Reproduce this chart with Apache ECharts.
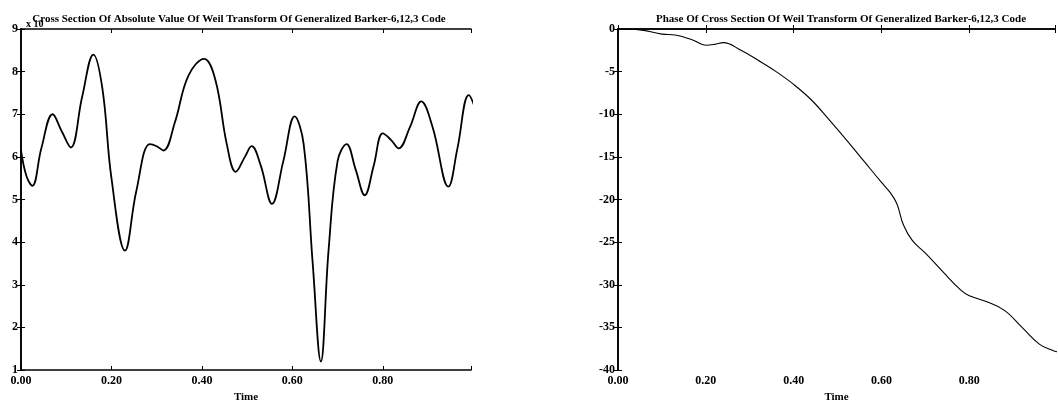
<!DOCTYPE html>
<html>
<head>
<meta charset="utf-8">
<script src="https://cdn.jsdelivr.net/npm/echarts@6/dist/echarts.min.js"></script>
<style>
  html, body { margin: 0; padding: 0; background: #fff; }
  #chart { width: 1058px; height: 408px; }
</style>
</head>
<body>
<div id="chart"></div>
<script>
// Magnitude of the cross section (scaled values) against time
const magTime = [0.000, 0.012, 0.025, 0.045, 0.070, 0.090, 0.110, 0.135, 0.160, 0.180,
  0.200, 0.230, 0.255, 0.285, 0.300, 0.315, 0.340, 0.370, 0.405, 0.430,
  0.455, 0.475, 0.495, 0.510, 0.530, 0.555, 0.580, 0.605, 0.625, 0.645,
  0.663, 0.680, 0.700, 0.720, 0.740, 0.760, 0.780, 0.800, 0.818, 0.835,
  0.860, 0.885, 0.910, 0.945, 0.965, 0.990, 1.005, 1.015];
const magValue = [6.15, 5.55, 5.32, 6.2, 7.0, 6.6, 6.22, 7.4, 8.4, 7.6,
  5.5, 3.8, 5.2, 6.3, 6.25, 6.15, 6.8, 7.9, 8.3, 7.8,
  6.3, 5.65, 6.0, 6.25, 5.8, 4.9, 5.9, 6.95, 6.3, 3.5,
  1.2, 3.8, 5.9, 6.3, 5.7, 5.1, 5.8, 6.55, 6.4, 6.2,
  6.7, 7.3, 6.7, 5.3, 6.2, 7.45, 7.1, 6.6];

// Phase of the cross section against time
const phaseTime = [0.00, 0.05, 0.10, 0.13, 0.17, 0.20, 0.22, 0.24, 0.28, 0.32,
  0.36, 0.40, 0.44, 0.48, 0.52, 0.56, 0.60, 0.62, 0.635, 0.65,
  0.67, 0.70, 0.74, 0.78, 0.80, 0.84, 0.88, 0.92, 0.96, 0.99, 1.01];
const phaseValue = [0.0, -0.1, -0.6, -0.7, -1.3, -1.9, -1.8, -1.6, -2.5, -3.7,
  -5.0, -6.5, -8.3, -10.6, -13.0, -15.5, -18.0, -19.2, -20.5, -23.0,
  -24.8, -26.3, -28.5, -30.6, -31.3, -32.0, -33.0, -35.0, -37.0, -37.7, -38.0];

const timeTicks = ['0.00', '0.20', '0.40', '0.60', '0.80'];
const magTicks = ['1', '2', '3', '4', '5', '6', '7', '8', '9'];
const phaseTicks = ['-40', '-35', '-30', '-25', '-20', '-15', '-10', '-5', '0'];

const leftTitle = 'Cross Section Of Absolute Value Of Weil Transform Of Generalized Barker-6,12,3 Code';
const rightTitle = 'Phase Of Cross Section Of Weil Transform Of Generalized Barker-6,12,3 Code';
const xName = 'Time';
const scaleNote = 'x 10';

const FONT = 'Liberation Serif';
const txt = { fontFamily: FONT, fontWeight: 'bold', color: '#000', fontSize: 12 };

function labelFrom(list) {
  return function (v) {
    for (const s of list) if (Math.abs(parseFloat(s) - v) < 1e-6) return s;
    return '';
  };
}

const line = { show: true, lineStyle: { color: '#000', width: 1.6 } };
const tickIn = { show: true, inside: true, length: 4, lineStyle: { color: '#000', width: 1 } };

function xAxes(grid) {
  return [
    { gridIndex: grid, type: 'value', min: 0, max: 0.995, interval: 0.2, position: 'bottom',
      name: xName, nameLocation: 'middle', nameGap: 22,
      nameTextStyle: Object.assign({}, txt, { fontSize: 11 }),
      axisLine: line, axisTick: tickIn, splitLine: { show: false },
      axisLabel: Object.assign({ margin: 5, formatter: labelFrom(timeTicks) }, txt) },
    { gridIndex: grid, type: 'value', min: 0, max: 0.995, interval: 0.2, position: 'top',
      axisLine: line, axisTick: tickIn, splitLine: { show: false }, axisLabel: { show: false } }
  ];
}
function yAxes(grid, min, max, interval, list) {
  return [
    { gridIndex: grid, type: 'value', min: min, max: max, interval: interval, position: 'left',
      axisLine: line, axisTick: tickIn, splitLine: { show: false },
      axisLabel: Object.assign({ margin: 3, formatter: labelFrom(list) }, txt) },
    { gridIndex: grid, type: 'value', min: min, max: max, interval: interval, position: 'right',
      axisLine: line, axisTick: tickIn, splitLine: { show: false }, axisLabel: { show: false } }
  ];
}

const chart = echarts.init(document.getElementById('chart'), null, { renderer: 'canvas' });
chart.setOption({
  backgroundColor: '#fff',
  animation: false,
  title: [
    { text: leftTitle, left: 234, top: 9, textAlign: 'center',
      textStyle: Object.assign({}, txt, { fontSize: 11 }) },
    { text: rightTitle, left: 836, top: 9, textAlign: 'center',
      textStyle: Object.assign({}, txt, { fontSize: 11 }) },
    { text: scaleNote, left: 21, top: 14, textStyle: Object.assign({}, txt, { fontSize: 10 }) }
  ],
  grid: [
    { left: 21, top: 29, width: 450, height: 348 },
    { left: 618, top: 29, width: 450, height: 348 }
  ],
  xAxis: xAxes(0).concat(xAxes(1)),
  yAxis: yAxes(0, 1, 9, 1, magTicks).concat(yAxes(1, -40, 0, 5, phaseTicks)),
  series: [
    { type: 'line', xAxisIndex: 0, yAxisIndex: 0, smooth: 0.4, symbol: 'none',
      lineStyle: { color: '#000', width: 1.8 },
      data: magTime.map((t, i) => [t, magValue[i]]) },
    { type: 'line', xAxisIndex: 2, yAxisIndex: 2, smooth: 0.4, symbol: 'none',
      lineStyle: { color: '#000', width: 1.1 },
      data: phaseTime.map((t, i) => [t, phaseValue[i]]) }
  ]
});
</script>
</body>
</html>
